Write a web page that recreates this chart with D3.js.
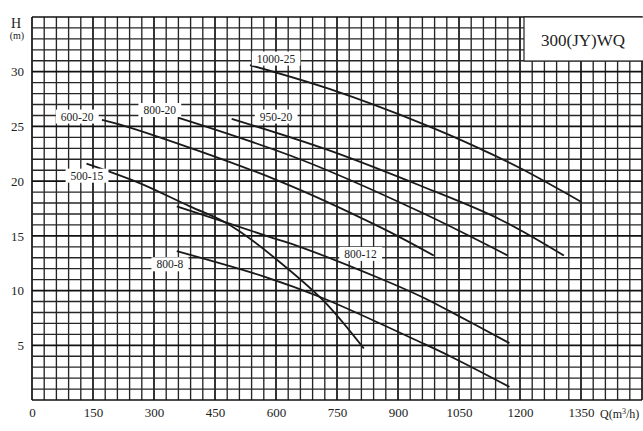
<!DOCTYPE html>
<html>
<head>
<meta charset="utf-8">
<script src="https://cdn.jsdelivr.net/npm/d3@7"></script>
<style>
  html, body { margin: 0; padding: 0; background: #fff; }
  svg { display: block; }
  text { font-family: "Liberation Serif", "DejaVu Serif", serif; fill: #222; }
</style>
</head>
<body>
<svg id="chart" width="643" height="431"></svg>
<script>
// ---- data ----
const xTicks = [0, 150, 300, 450, 600, 750, 900, 1050, 1200, 1350];
const yTicks = [5, 10, 15, 20, 25, 30];
const curveNames = ["1000-25", "950-20", "800-20", "600-20", "500-15", "800-12", "800-8"];
const curve1000_25 = [[536, 30.6], [733, 28.4], [970, 25.1], [1100, 23.0], [1200, 21.2], [1351, 18.1]];
const curve950_20 = [[491, 25.7], [724, 22.9], [954, 19.6], [1151, 16.5], [1308, 13.2]];
const curve800_20 = [[359, 25.8], [659, 22.0], [954, 17.2], [1170, 13.2]];
const curve600_20 = [[172, 25.6], [241, 24.9], [602, 20.1], [856, 15.8], [988, 13.2]];
const curve500_15 = [[134, 21.6], [266, 19.8], [388, 17.7], [462, 16.5], [511, 15.4], [593, 13.1], [716, 9.1], [816, 4.7]];
const curve800_12 = [[356, 17.7], [593, 14.8], [659, 14.0], [856, 11.1], [954, 9.5], [1028, 8.1], [1174, 5.2]];
const curve800_8 = [[356, 13.6], [569, 11.3], [716, 9.3], [954, 5.3], [1028, 4.0], [1174, 1.2]];
const curveData = [curve1000_25, curve950_20, curve800_20, curve600_20, curve500_15, curve800_12, curve800_8];
// label anchor positions in data units (q, H)
const labelQ = [600, 600, 314, 111, 135, 808, 339];
const labelH = [31.2, 25.9, 26.5, 25.9, 20.5, 13.35, 12.4];
const titleText = "300(JY)WQ";

// ---- scales ----
const svg = d3.select("#chart");
const x = d3.scaleLinear().domain([0, 1500]).range([32, 642]);
const y = d3.scaleLinear().domain([0, 35]).range([400, 17]);

// ---- grid ----
const g = svg.append("g");
const vLines = d3.range(0, 1501, 30);
const hLines = d3.range(0, 36, 1);
g.selectAll("line.v").data(vLines).enter().append("line")
  .attr("x1", d => x(d)).attr("x2", d => x(d))
  .attr("y1", y(0)).attr("y2", y(35))
  .attr("stroke", d => d % 150 === 0 ? "#111" : "#262626")
  .attr("stroke-width", d => d % 150 === 0 ? 1.7 : 1.35);
g.selectAll("line.h").data(hLines).enter().append("line")
  .attr("y1", d => y(d)).attr("y2", d => y(d))
  .attr("x1", x(0)).attr("x2", x(1500))
  .attr("stroke", d => d % 5 === 0 ? "#111" : "#262626")
  .attr("stroke-width", d => d % 5 === 0 ? 1.7 : 1.35);

// ---- axes labels ----
const xAxis = d3.axisBottom(x).tickValues(xTicks).tickFormat(d3.format("d")).tickSize(0).tickPadding(8);
const xa = svg.append("g").attr("transform", `translate(0,${y(0)})`).call(xAxis);
xa.select(".domain").remove();
xa.selectAll("text").style("font-family", '"Liberation Serif", serif').style("font-size", "13px").attr("fill", "#222");

const yAxis = d3.axisLeft(y).tickValues(yTicks).tickFormat(d3.format("d")).tickSize(0).tickPadding(8);
const ya = svg.append("g").attr("transform", `translate(${x(0)},0)`).call(yAxis);
ya.select(".domain").remove();
ya.selectAll("text").style("font-family", '"Liberation Serif", serif').style("font-size", "13px").attr("fill", "#222");

svg.append("text").attr("x", 16).attr("y", 28).attr("text-anchor", "middle")
  .style("font-size", "14px").text("H");
svg.append("text").attr("x", 17).attr("y", 38.5).attr("text-anchor", "middle")
  .style("font-size", "10px").text("(m)");

const ql = svg.append("text").attr("x", x(1350) + 19).attr("y", 417.5)
  .style("font-size", "12px");
ql.append("tspan").text("Q(m");
ql.append("tspan").attr("dy", -4).style("font-size", "8px").text("3");
ql.append("tspan").attr("dy", 4).text("/h)");

// ---- curves ----
const line = d3.line().x(d => x(d[0])).y(d => y(d[1])).curve(d3.curveCatmullRom.alpha(0.5));
svg.append("g").selectAll("path").data(curveData).enter().append("path")
  .attr("d", line).attr("fill", "none").attr("stroke", "#1a1a1a").attr("stroke-width", 1.8);

// ---- curve labels ----
const lg = svg.append("g");
curveNames.forEach((name, i) => {
  const cx = x(labelQ[i]), cy = y(labelH[i]);
  const t = lg.append("text").attr("x", cx).attr("y", cy + 4)
    .attr("text-anchor", "middle").style("font-size", "11.5px").text(name);
  const bb = t.node().getBBox();
  lg.insert("rect", "text").attr("x", bb.x - 5).attr("y", cy - 7)
    .attr("width", bb.width + 10).attr("height", 14).attr("fill", "#fff");
});

// ---- title box ----
svg.append("rect").attr("x", 524).attr("y", y(35)).attr("width", 130).attr("height", 44)
  .attr("fill", "#fff").attr("stroke", "#222").attr("stroke-width", 1.2);
svg.append("text").attr("x", 583).attr("y", 46).attr("text-anchor", "middle")
  .style("font-size", "17px").text(titleText);
</script>
</body>
</html>
